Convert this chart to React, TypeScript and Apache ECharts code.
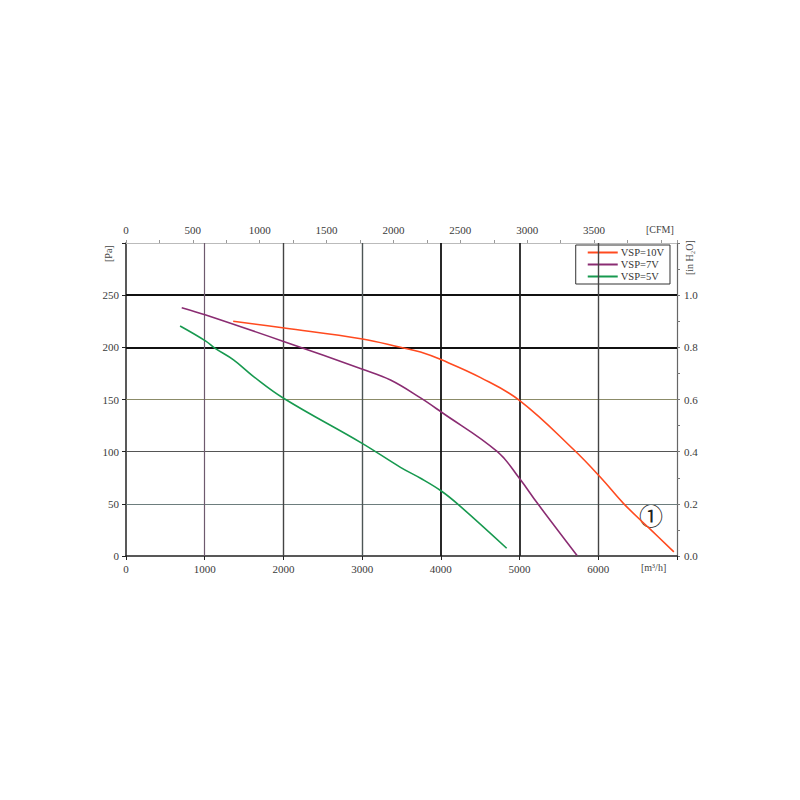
import React, { useEffect, useRef } from "react";
import * as echarts from "echarts";

// Airflow in m³/h, static pressure in Pa
const vsp10V: [number, number][] = [
  [1362, 225], [2011, 218.5], [3004, 208], [3487, 200], [3742, 195.5], [4009, 188],
  [4505, 171], [5002, 149], [5693, 101.6], [6033, 75], [6325, 50], [6669, 25], [6960, 4],
];
const vsp7V: [number, number][] = [
  [708, 238], [1014, 231], [2011, 205.4], [3004, 179], [3360, 168.7], [3742, 151.5],
  [4005, 138], [4718, 100], [5002, 74], [5227, 50.5], [5730, 0.5],
];
const vsp5V: [number, number][] = [
  [687, 220.5], [1014, 206], [1133, 199], [1366, 188], [1621, 172], [2007, 151],
  [3000, 108], [3487, 85], [3742, 74.5], [4005, 62.3], [4226, 49], [4836, 7.4],
];
const seriesNames = ["VSP=10V", "VSP=7V", "VSP=5V"];
const seriesColors = ["#ff4a1f", "#8a2c72", "#17994f"];

const flowMax = 7000; // m³/h
const pressureMax = 300; // Pa
const cfmPerM3h = 1 / 1.699;
const inH2OMax = 1.2;

// grid lines (axis tick values)
const hGrid: { v: number; color: string; width: number }[] = [
  { v: 50, color: "#6d7d7d", width: 1.2 },
  { v: 100, color: "#555555", width: 1.2 },
  { v: 150, color: "#8b8b68", width: 1.2 },
  { v: 200, color: "#111111", width: 1.8 },
  { v: 250, color: "#111111", width: 1.8 },
];
const vGrid: { v: number; color: string; width: number }[] = [
  { v: 1000, color: "#6e5a6e", width: 1.2 },
  { v: 2000, color: "#444444", width: 1.4 },
  { v: 3000, color: "#4d5555", width: 1.4 },
  { v: 4000, color: "#111111", width: 1.8 },
  { v: 5000, color: "#222222", width: 1.8 },
  { v: 6000, color: "#444444", width: 1.4 },
];

const FONT = "Liberation Serif";

export default function App() {
  const ref = useRef<HTMLDivElement>(null);
  useEffect(() => {
    if (!ref.current) return;
    const chart = echarts.init(ref.current, undefined, { renderer: "svg" });
    const labelStyle = { color: "#3a3a3a", fontFamily: FONT, fontSize: 11 };
    chart.setOption({
      animation: false,
      backgroundColor: "#fff",
      grid: { left: 126, right: 123, top: 243, bottom: 244, containLabel: false },
      legend: {
        orient: "vertical",
        right: 130,
        top: 245,
        data: seriesNames,
        backgroundColor: "#fff",
        borderColor: "#333",
        borderWidth: 1,
        padding: [2, 6, 2, 12],
        itemGap: 1,
        itemWidth: 30,
        itemHeight: 2,
        icon: "rect",
        textStyle: { fontFamily: FONT, fontSize: 10.5, color: "#333", padding: [0, 0, 0, -2] },
      },
      xAxis: [
        {
          type: "value",
          position: "bottom",
          min: 0,
          max: flowMax,
          interval: 1000,
          axisLine: { show: true, onZero: false, lineStyle: { color: "#222", width: 1.5 } },
          axisTick: { show: true, length: 4, lineStyle: { color: "#222" } },
          axisLabel: {
            ...labelStyle,
            margin: 7,
            formatter: (v: number) => (v >= flowMax ? "" : String(v)),
          },
          splitLine: { show: false },
        },
        {
          type: "value",
          position: "top",
          min: 0,
          max: flowMax * cfmPerM3h,
          interval: 250,
          axisLine: { show: true, onZero: false, lineStyle: { color: "#bbbbbb", width: 1 } },
          axisTick: { show: true, length: 3, lineStyle: { color: "#999" } },
          axisLabel: {
            ...labelStyle,
            margin: 8,
            formatter: (v: number) => (v >= 4000 || Math.round(v) % 500 !== 0 ? "" : String(Math.round(v))),
          },
          splitLine: { show: false },
        },
      ],
      yAxis: [
        {
          type: "value",
          position: "left",
          min: 0,
          max: pressureMax,
          interval: 50,
          axisLine: { show: true, onZero: false, lineStyle: { color: "#222", width: 1.5 } },
          axisTick: { show: true, length: 4, lineStyle: { color: "#222" } },
          axisLabel: {
            ...labelStyle,
            margin: 7,
            formatter: (v: number) => (v >= pressureMax ? "" : String(v)),
          },
          splitLine: { show: false },
        },
        {
          type: "value",
          position: "right",
          min: 0,
          max: inH2OMax,
          interval: 0.1,
          axisLine: { show: true, onZero: false, lineStyle: { color: "#666", width: 1.2 } },
          axisTick: { show: true, length: 3, lineStyle: { color: "#777" } },
          axisLabel: {
            ...labelStyle,
            margin: 7,
            formatter: (v: number) => {
              const k = Math.round(v * 10);
              return k >= 12 || k % 2 !== 0 ? "" : (k / 10).toFixed(1);
            },
          },
          splitLine: { show: false },
        },
      ],
      series: [
        {
          type: "line",
          name: "grid",
          data: [],
          silent: true,
          markLine: {
            silent: true,
            symbol: "none",
            label: { show: false },
            animation: false,
            data: [
              ...hGrid.map((g) => ({ yAxis: g.v, lineStyle: { color: g.color, width: g.width, type: "solid" } })),
              ...vGrid.map((g) => ({ xAxis: g.v, lineStyle: { color: g.color, width: g.width, type: "solid" } })),
            ],
          },
        },
        ...[vsp10V, vsp7V, vsp5V].map((d, i) => ({
          type: "line",
          name: seriesNames[i],
          data: d,
          smooth: 0.4,
          showSymbol: false,
          symbol: "none",
          z: 5,
          itemStyle: { color: seriesColors[i] },
          lineStyle: { color: seriesColors[i], width: 1.6 },
        })),
      ],
      graphic: [
        {
          type: "text",
          left: 646,
          top: 224,
          style: { text: "[CFM]", fill: "#444", font: `10px "${FONT}"` },
        },
        {
          type: "text",
          left: 641,
          top: 562,
          style: { text: "[m³/h]", fill: "#444", font: `10px "${FONT}"` },
        },
        {
          type: "text",
          x: 108,
          y: 262,
          rotation: Math.PI / 2,
          style: { text: "[Pa]", fill: "#444", font: `10px "${FONT}"`, align: "left", verticalAlign: "middle" },
        },
        {
          type: "text",
          x: 689,
          y: 275,
          rotation: Math.PI / 2,
          style: { text: "[in H₂O]", fill: "#444", font: `10px "${FONT}"`, align: "left", verticalAlign: "middle" },
        },
        {
          type: "text",
          left: 639,
          top: 502,
          style: { text: "①", fill: "#222", font: `24px "Noto Sans CJK SC"` },
        },
      ],
    });
    return () => chart.dispose();
  }, []);
  return <div ref={ref} style={{ width: 800, height: 800, margin: -8 }} />;
}
